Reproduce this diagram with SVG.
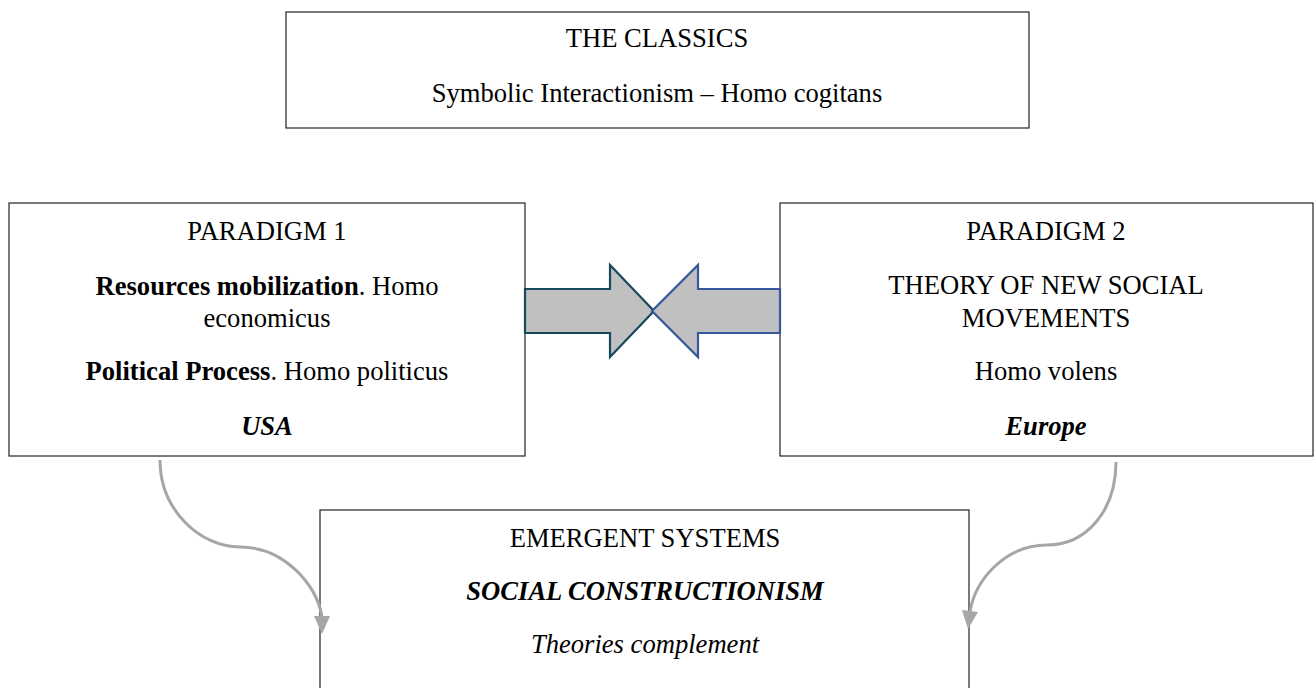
<svg xmlns="http://www.w3.org/2000/svg" width="1316" height="688" viewBox="0 0 1316 688">
<style>
.box{fill:#fff;stroke:#222;stroke-width:1.2}
text{font-family:"Liberation Serif","Times New Roman",serif;font-size:26.6px;fill:#000;text-anchor:middle}
.b{font-weight:bold}
.i{font-style:italic}
.conn{fill:none;stroke:#a6a6a6;stroke-width:3}
.arr{fill:#c0c0c0;stroke-width:2.2;stroke-linejoin:miter}
.head{fill:#a6a6a6}
</style>
<rect width="1316" height="688" fill="#fff"/>
<g id="classics">
<rect class="box" x="286" y="12" width="743" height="116"/>
<text x="657" y="47">THE CLASSICS</text>
<text x="657" y="102">Symbolic Interactionism – Homo cogitans</text>
</g>
<g id="paradigm1">
<rect class="box" x="9" y="203" width="516" height="253"/>
<text x="267" y="240">PARADIGM 1</text>
<text x="267" y="295"><tspan class="b">Resources mobilization</tspan>. Homo</text>
<text x="267" y="327">economicus</text>
<text x="267" y="380"><tspan class="b">Political Process</tspan>. Homo politicus</text>
<text x="267" y="435" class="b i">USA</text>
</g>
<g id="paradigm2">
<rect class="box" x="780" y="203" width="533" height="253"/>
<text x="1046" y="240">PARADIGM 2</text>
<text x="1046" y="294">THEORY OF NEW SOCIAL</text>
<text x="1046" y="327">MOVEMENTS</text>
<text x="1046" y="380">Homo volens</text>
<text x="1046" y="435" class="b i">Europe</text>
</g>
<g id="emergent">
<rect class="box" x="320" y="510" width="649" height="190"/>
<text x="645" y="547">EMERGENT SYSTEMS</text>
<text x="645" y="600" class="b i">SOCIAL CONSTRUCTIONISM</text>
<text x="645" y="653" class="i">Theories complement</text>
</g>
<g id="connectors">
<path class="arr" stroke="#17485c" d="M525,289 L610,289 L610,265 L654,311 L610,357 L610,333 L525,333 Z"/>
<path class="arr" stroke="#35589a" d="M780,289 L698,289 L698,265 L652,311 L698,357 L698,333 L780,333 Z"/>
<path class="conn" d="M160,460 C160,510 200,547 240,547 C285,547 316,585 322,616"/>
<path class="head" d="M314,616 L330,616 L322,634 Z"/>
<path class="conn" d="M1116,462 C1116,510 1087,545 1047,545 C1005,545 975,580 970,612"/>
<path class="head" d="M962,610 L978,612 L968,629 Z"/>
</g>
</svg>
